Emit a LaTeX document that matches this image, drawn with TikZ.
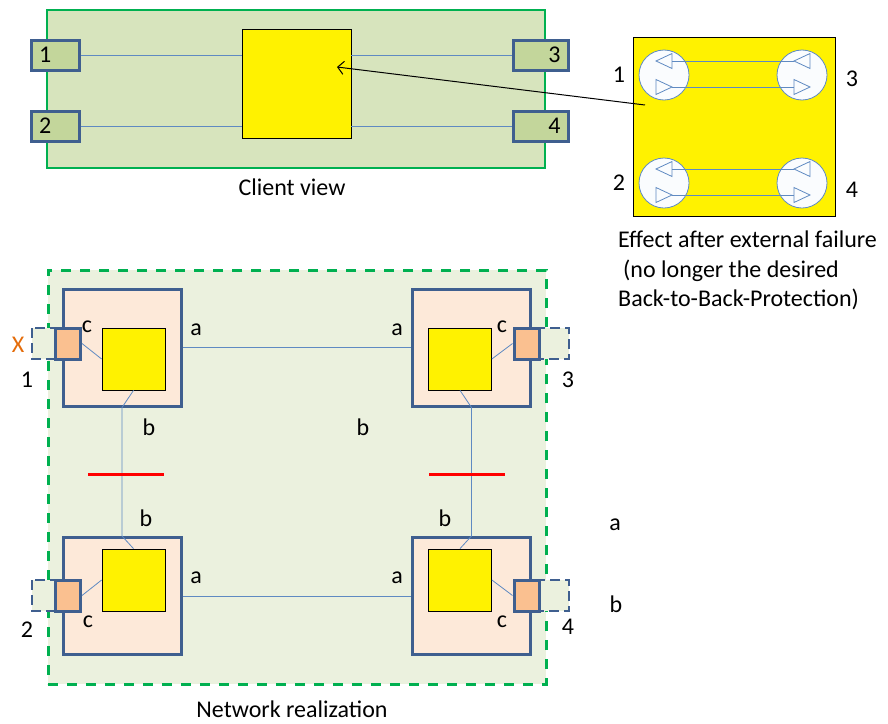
\documentclass[tikz,border=0pt]{standalone}
\usepackage{fontspec}
\setmainfont{Carlito}
\usepackage{tikz}
\usetikzlibrary{arrows.meta,calc}

\definecolor{clientfill}{HTML}{D7E4BD}
\definecolor{netfill}{HTML}{EBF1DE}
\definecolor{framegreen}{HTML}{00B050}
\definecolor{portfill}{HTML}{C3D69B}
\definecolor{portedge}{HTML}{3F5F8F}
\definecolor{linkblue}{HTML}{5F8AC2}
\definecolor{nodefill}{HTML}{FDE9D9}
\definecolor{cfill}{HTML}{FAC090}
\definecolor{xorange}{HTML}{E46C0A}
\definecolor{circfill}{HTML}{FAFCFE}

\begin{document}
\begin{tikzpicture}[x=1pt,y=-1pt,
    every node/.style={font=\fontsize{24}{29.5}\selectfont},
    clientbox/.style={draw=framegreen,line width=2.5pt,fill=clientfill,inner sep=0pt,minimum width=498pt,minimum height=158pt},
    port/.style={draw=portedge,line width=3pt,fill=portfill,inner sep=0pt,inner xsep=8pt,minimum height=30pt},
    bigsq/.style={draw,line width=0.8pt,fill=yellow,inner sep=0pt},
    link/.style={draw=linkblue,line width=0.8pt},
    netbox/.style={draw=framegreen,line width=3pt,dash pattern=on 10pt off 9pt,fill=netfill,inner sep=0pt,minimum width=498pt,minimum height=414pt},
    nebox/.style={draw=portedge,line width=3pt,fill=nodefill,inner sep=0pt,minimum width=118pt,minimum height=117pt},
    fabric/.style={draw,line width=0.8pt,fill=yellow,inner sep=0pt,minimum width=63pt,minimum height=62pt},
    cport/.style={draw=portedge,line width=3pt,fill=cfill,inner sep=0pt,minimum width=25pt,minimum height=31pt},
    extport/.style={draw=portedge,line width=2.5pt,dash pattern=on 10pt off 5pt,fill=netfill},
    failure/.style={draw=red,line width=3pt},
    circ/.style={circle,draw=linkblue,line width=0.8pt,fill=circfill,minimum size=50pt,inner sep=0pt},
    tri/.style={draw=linkblue,line width=0.8pt,fill=circfill},
    lbl/.style={inner sep=0pt}]
\useasboundingbox (0,0) rectangle (888,723);

% client view
\node[clientbox] (client) at (296,89) {};
\node[port,text width=32pt,align=left] (p1) at (55,55) {1};
\node[port,text width=32pt,align=left] (p2) at (55,126) {2};
\node[port,text width=39pt,align=right] (p3) at (541,55) {3};
\node[port,text width=39pt,align=right] (p4) at (541,126) {4};
\node[bigsq,minimum size=109pt] (sw) at (296.5,83.5) {};
\draw[link] (p1.east) -- (p1.east -| sw.west);
\draw[link] (p2.east) -- (p2.east -| sw.west);
\draw[link] (p3.west -| sw.east) -- (p3.west);
\draw[link] (p4.west -| sw.east) -- (p4.west);
\node[lbl] (cview) at (292,187) {Client view};

% effect after failure
\node[bigsq,minimum width=202pt,minimum height=179pt] (effect) at (734,126.5) {};
\node[circ] (e1) at (664,75) {};
\node[circ] (e3) at (802,75) {};
\node[circ] (e2) at (664,183) {};
\node[circ] (e4) at (802,183) {};
\foreach \c in {e1,e2,e3,e4} {
  \draw[tri] ($(\c)+(-8,-14)$) -- ($(\c)+(8,-21.5)$) -- ($(\c)+(8,-6.5)$) -- cycle;
  \draw[tri] ($(\c)+(8,12)$) -- ($(\c)+(-8,4.5)$) -- ($(\c)+(-8,19.5)$) -- cycle;
}
\draw[link] ($(e1)+(8,-14)$) -- ($(e3)+(-8,-14)$);
\draw[link] ($(e1)+(8,12)$) -- ($(e3)+(-8,12)$);
\draw[link] ($(e2)+(8,-14)$) -- ($(e4)+(-8,-14)$);
\draw[link] ($(e2)+(8,12)$) -- ($(e4)+(-8,12)$);
\node[lbl] (n1) at (619,75) {1};
\node[lbl] (n3) at (852,79) {3};
\node[lbl] (n2) at (619,183) {2};
\node[lbl] (n4) at (852,190) {4};
\node[lbl,anchor=north west,align=left] (effecttxt) at (618,231) {Effect after external failure\\\hspace{5pt}(no longer the desired\\Back-to-Back-Protection)};

\coordinate (tail) at (645,105);
\coordinate (head) at (337,67);
\draw[-{Straight Barb[length=6pt,width=13pt]},line width=1pt] (tail) -- (head);

% network realization
\node[netbox] (net) at (297,477) {};
\draw[extport] (32,328) rectangle (60,359);
\draw[extport] (535,328) rectangle (569,359);
\draw[extport] (32,580) rectangle (60,611);
\draw[extport] (535,580) rectangle (569,611);
\node[nebox] (ne1) at (122,347.5) {};
\node[nebox] (ne3) at (471.5,347.5) {};
\node[nebox] (ne2) at (122,596) {};
\node[nebox] (ne4) at (471.5,596) {};
\node[fabric] (f1) at (133.5,359) {};
\node[fabric] (f3) at (460,359) {};
\node[fabric] (f2) at (133.5,580) {};
\node[fabric] (f4) at (460,580) {};
\node[cport] (c1) at (68,343.5) {};
\node[cport] (c3) at (526.5,343.5) {};
\node[cport] (c2) at (68,595.5) {};
\node[cport] (c4) at (526.5,595.5) {};
\draw[link] (c1.east) -- (f1.west);
\draw[link] (c3.west) -- (f3.east);
\draw[link] (c2.east) -- (f2.west);
\draw[link] (c4.west) -- (f4.east);
\draw[link] (ne1.east) -- (ne3.west);
\draw[link] (ne2.east) -- (ne4.west);
\draw[link] (f1.south) -- (ne1.south) -- (ne2.north) -- (f2.north);
\draw[link] (f3.south) -- (ne3.south) -- (ne4.north) -- (f4.north);
\draw[failure] (88,474) -- (164,474);
\draw[failure] (429,474) -- (505,474);

\node[lbl,text=xorange] (x1) at (18,345) {X};
\node[lbl] (l1) at (27,380) {1};
\node[lbl] (l2) at (27,630) {2};
\node[lbl] (l3) at (568,380) {3};
\node[lbl] (l4) at (568,627) {4};
\node[lbl] (lc1) at (87,327) {c};
\node[lbl] (lc3) at (502,327) {c};
\node[lbl] (lc2) at (88,622) {c};
\node[lbl] (lc4) at (502,622) {c};
\node[lbl] (la1) at (196,330) {a};
\node[lbl] (la3) at (397,330) {a};
\node[lbl] (la2) at (196,578) {a};
\node[lbl] (la4) at (397,578) {a};
\node[lbl] (lb1) at (149,427) {b};
\node[lbl] (lb3) at (363,427) {b};
\node[lbl] (lb2) at (146,518) {b};
\node[lbl] (lb4) at (445,518) {b};
\node[lbl] (keya) at (615,525) {a};
\node[lbl] (keyb) at (616,604) {b};
\node[lbl] (nview) at (292,709) {Network realization};
\end{tikzpicture}
\end{document}
